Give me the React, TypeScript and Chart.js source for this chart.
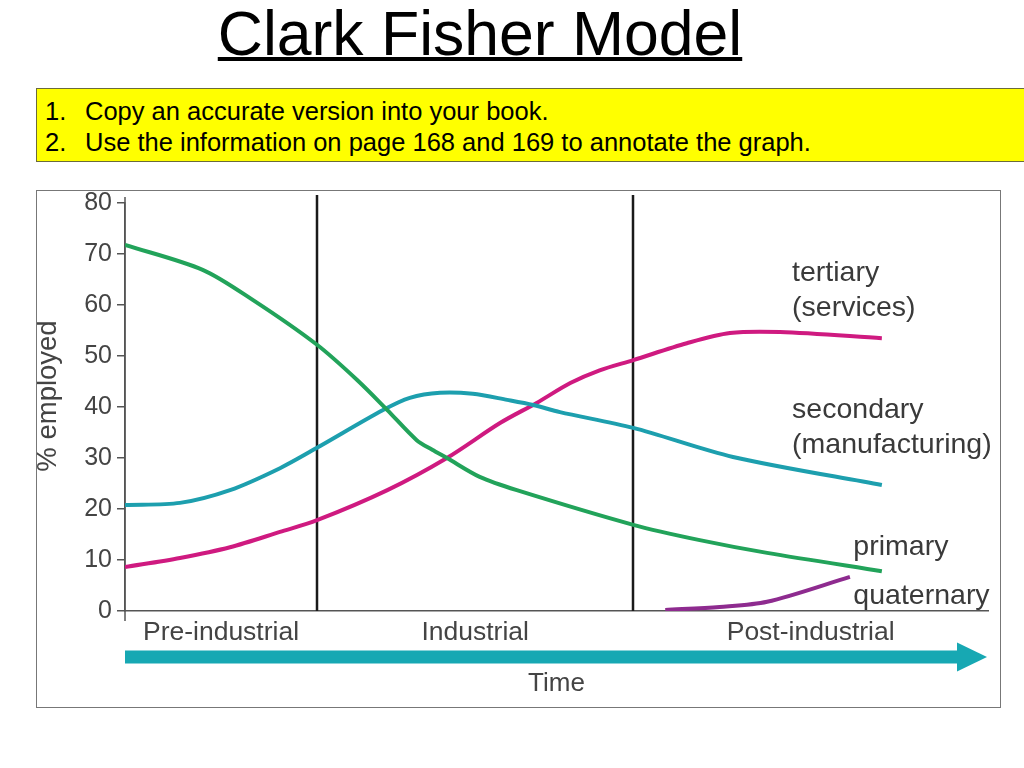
import React, { useEffect, useRef } from 'react';
import { Chart, registerables } from 'chart.js';

Chart.register(...registerables);

// ---- data ----
const yTicks = [0, 10, 20, 30, 40, 50, 60, 70, 80];
const stageNames = ['Pre-industrial', 'Industrial', 'Post-industrial'];
const stageBoundaries = [22.25, 58.9];
const timeLabel = 'Time';
const yTitle = '% employed';

const primaryX = [0, 9.0, 14.8, 22.25, 26.9, 30.4, 33.8, 35.6, 37.3, 41.1, 45.4, 58.9, 66.6, 74.4, 87.7];
const primaryY = [71.8, 66.9, 61, 52.2, 45.3, 39.4, 33.5, 31.6, 30, 26.3, 23.7, 16.9, 13.9, 11.4, 7.8];
const secondaryX = [0, 6.37, 12.17, 17.96, 22.25, 29.9, 33.0, 36.5, 40.3, 44.3, 47.3, 50.4, 58.9, 70.45, 87.7];
const secondaryY = [20.8, 21.2, 23.7, 28, 32, 39.4, 41.8, 42.8, 42.6, 41.4, 40.4, 39.0, 35.9, 30.2, 24.7];
const tertiaryX = [0, 6.37, 12.17, 17.96, 22.25, 30.4, 37.3, 43.5, 47.7, 51.6, 55.0, 58.9, 65.1, 70.1, 75.9, 87.7];
const tertiaryY = [8.6, 10.4, 12.5, 15.5, 17.8, 23.7, 30, 36.9, 40.8, 44.7, 47.2, 49.2, 52.5, 54.5, 54.7, 53.5];
const quaternaryX = [62.6, 68.9, 74.4, 84.0];
const quaternaryY = [0.2, 0.8, 1.8, 6.7];

// label anchors (data coords)
const seriesLabels = [
  { lines: ['tertiary', '(services)'], x: 77.3, y: 66.3 },
  { lines: ['secondary', '(manufacturing)'], x: 77.3, y: 39.3 },
  { lines: ['primary'], x: 84.4, y: 12.5 },
  { lines: ['quaternary'], x: 84.4, y: 3.0 },
];

const FONT = "'Liberation Sans', Arial, Helvetica, sans-serif";

const toPts = (xs: number[], ys: number[]) => xs.map((x, i) => ({ x, y: ys[i] }));

const decorPlugin = {
  id: 'decor',
  beforeDatasetsDraw(chart: any) {
    const { ctx, chartArea, scales } = chart;
    const xs = scales.x;
    ctx.save();
    ctx.strokeStyle = '#1a1a1a';
    ctx.lineWidth = 2.5;
    stageBoundaries.forEach((b) => {
      const px = Math.round(xs.getPixelForValue(b));
      ctx.beginPath();
      ctx.moveTo(px, chartArea.top - 8);
      ctx.lineTo(px, chartArea.bottom);
      ctx.stroke();
    });
    // y-axis line extension
    ctx.strokeStyle = '#555';
    ctx.lineWidth = 1.5;
    ctx.beginPath();
    ctx.moveTo(chartArea.left, chartArea.top - 6);
    ctx.lineTo(chartArea.left, chartArea.bottom + 10);
    ctx.stroke();
    ctx.restore();
  },
  afterDraw(chart: any) {
    const { ctx, chartArea, scales } = chart;
    const xs = scales.x;
    const ys = scales.y;
    ctx.save();
    // y title
    ctx.save();
    ctx.translate(chartArea.left - 77, chartArea.top + 193);
    ctx.rotate(-Math.PI / 2);
    ctx.font = `27.5px ${FONT}`;
    ctx.fillStyle = '#444';
    ctx.textAlign = 'center';
    ctx.textBaseline = 'middle';
    ctx.fillText(yTitle, 0, 0);
    ctx.restore();

    // stage labels
    const edges = [xs.min, ...stageBoundaries, xs.max];
    ctx.font = `26.5px ${FONT}`;
    ctx.fillStyle = '#444';
    ctx.textAlign = 'center';
    ctx.textBaseline = 'middle';
    stageNames.forEach((name, i) => {
      const cx = (xs.getPixelForValue(edges[i]) + xs.getPixelForValue(edges[i + 1])) / 2;
      ctx.fillText(name, cx, chartArea.bottom + 22);
    });

    // arrow
    const ay = chartArea.bottom + 46;
    const tip = chartArea.right - 1;
    ctx.fillStyle = '#17a8b3';
    ctx.fillRect(chartArea.left, ay - 6.5, tip - 29 - chartArea.left, 13);
    ctx.beginPath();
    ctx.moveTo(tip - 30, ay - 14.5);
    ctx.lineTo(tip, ay);
    ctx.lineTo(tip - 30, ay + 14.5);
    ctx.closePath();
    ctx.fill();

    // Time
    ctx.font = `26px ${FONT}`;
    ctx.fillStyle = '#444';
    ctx.textAlign = 'center';
    ctx.fillText(timeLabel, (chartArea.left + chartArea.right) / 2, chartArea.bottom + 73);

    // series labels
    ctx.font = `28.5px ${FONT}`;
    ctx.fillStyle = '#3a3a3a';
    ctx.textAlign = 'left';
    ctx.textBaseline = 'middle';
    seriesLabels.forEach((l) => {
      const px = xs.getPixelForValue(l.x);
      const py = ys.getPixelForValue(l.y);
      l.lines.forEach((t, i) => ctx.fillText(t, px, py + i * 35));
    });
    ctx.restore();
  },
};

function ChartBox() {
  const ref = useRef<HTMLCanvasElement | null>(null);
  useEffect(() => {
    if (!ref.current) return;
    const common = {
      pointRadius: 0,
      borderWidth: 4,
      tension: 0.3,
      fill: false,
    };
    const chart = new Chart(ref.current, {
      type: 'line',
      data: {
        datasets: [
          { label: 'primary', data: toPts(primaryX, primaryY), borderColor: '#22a35a', ...common },
          { label: 'secondary', data: toPts(secondaryX, secondaryY), borderColor: '#1d9fae', ...common },
          { label: 'tertiary', data: toPts(tertiaryX, tertiaryY), borderColor: '#cf1a80', ...common },
          { label: 'quaternary', data: toPts(quaternaryX, quaternaryY), borderColor: '#8e2b8f', ...common },
        ],
      },
      options: {
        responsive: false,
        animation: false,
        layout: { padding: { top: 12, right: 12, left: 0, bottom: 0 } },
        plugins: { legend: { display: false }, tooltip: { enabled: false }, title: { display: false } },
        scales: {
          x: {
            type: 'linear',
            min: 0,
            max: 100,
            ticks: { display: false },
            grid: { display: true, drawOnChartArea: false, drawTicks: false },
            border: { display: true, color: '#555', width: 1.5 },
            afterFit: (s: any) => { s.height = 96; s.paddingLeft = 0; s.paddingRight = 0; },
          },
          y: {
            min: 0,
            max: 80,
            afterBuildTicks: (s: any) => { s.ticks = yTicks.map((v) => ({ value: v })); },
            ticks: { color: '#444', font: { size: 25, family: FONT }, padding: 5 },
            grid: { drawOnChartArea: false, drawTicks: true, tickLength: 8, color: '#555', lineWidth: 1.5 },
            border: { display: true, color: '#555', width: 1.5 },
            afterFit: (s: any) => { s.width = 88; s.paddingTop = 0; s.paddingBottom = 0; },
          },
        },
      },
      plugins: [decorPlugin],
    } as any);
    return () => chart.destroy();
  }, []);
  return <canvas ref={ref} width={963} height={516} style={{ display: 'block', width: 963, height: 516 }} />;
}

export default function App() {
  return (
    <div style={{ position: 'absolute', left: 0, top: 0, width: 1024, height: 768, overflow: 'hidden', background: '#fff', fontFamily: FONT }}>
      <div style={{ position: 'absolute', left: 0, top: 2, width: 960, textAlign: 'center', fontSize: 62.5, lineHeight: '62px', color: '#000', textDecoration: 'underline', textDecorationThickness: '4px', textUnderlineOffset: '2px' }}>
        Clark Fisher Model
      </div>
      <div style={{ position: 'absolute', left: 36, top: 88, width: 1000, height: 72, background: '#ffff00', border: '1px solid #6b6b3a', color: '#000', fontSize: 25.5 }}>
        <div style={{ position: 'absolute', left: 8, top: 7, lineHeight: '31px' }}>
          <div style={{ display: 'flex' }}><span style={{ width: 40 }}>1.</span><span>Copy an accurate version into your book.</span></div>
          <div style={{ display: 'flex' }}><span style={{ width: 40 }}>2.</span><span>Use the information on page 168 and 169 to annotate the graph.</span></div>
        </div>
      </div>
      <div style={{ position: 'absolute', left: 36, top: 190, width: 963, height: 516, border: '1px solid #777' }}>
        <ChartBox />
      </div>
    </div>
  );
}
